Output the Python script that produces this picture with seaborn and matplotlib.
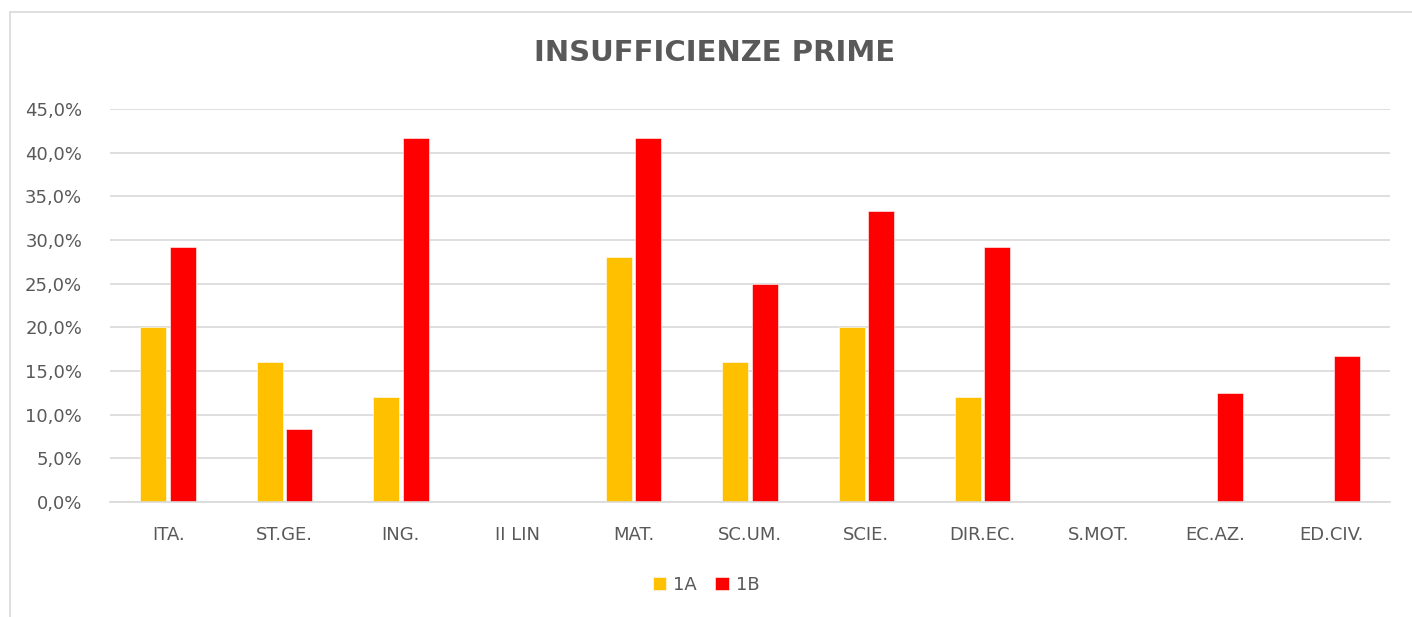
import numpy as np
import pandas as pd
import matplotlib
matplotlib.use('Agg')
import matplotlib.pyplot as plt
from matplotlib.ticker import FuncFormatter
from matplotlib.patches import Rectangle
import seaborn as sns

# ── Data ──────────────────────────────────────────────
subjects = ['ITA.', 'ST.GE.', 'ING.', 'II LIN', 'MAT.', 'SC.UM.',
            'SCIE.', 'DIR.EC.', 'S.MOT.', 'EC.AZ.', 'ED.CIV.']
class_1a = [20.0, 16.0, 12.0, 0.0, 28.0, 16.0, 20.0, 12.0, 0.0, 0.0, 0.0]
class_1b = [29.2, 8.3, 41.7, 0.0, 41.7, 25.0, 33.3, 29.2, 0.0, 12.5, 16.7]
classes  = ['1A', '1B']
colors   = ['#FFC000', '#FF0000']

df = pd.DataFrame({
    'Materia': subjects * 2,
    'Classe':  ['1A'] * len(subjects) + ['1B'] * len(subjects),
    'Valore':  class_1a + class_1b,
})

# ── Style ─────────────────────────────────────────────
sns.set_theme(style='white')
plt.rcParams['font.family'] = ['DejaVu Sans']
TXT = '#595959'

fig = plt.figure(figsize=(14.12, 6.17), dpi=100)
ax = fig.add_axes([0.0779, 0.1864, 0.9065, 0.637])

# outer chart border (right and bottom edges fall outside the image)
fig.patches.append(Rectangle((10 / 1412, -0.01), 1.0, 1 - 12 / 617 + 0.01,
                             transform=fig.transFigure, fill=False,
                             edgecolor='#D9D9D9', lw=1.2))

sns.barplot(data=df, x='Materia', y='Valore', hue='Classe', hue_order=classes,
            palette=colors, saturation=1, width=0.507, gap=0.12, ax=ax,
            legend=True, edgecolor='white', linewidth=0.4)

ax.set_ylim(0, 45)
ax.set_xlim(-0.5, len(subjects) - 0.5)
ax.set_yticks(np.arange(0, 46, 5))
ax.yaxis.set_major_formatter(FuncFormatter(lambda v, p: f'{v:.1f}%'.replace('.', ',')))
ax.grid(axis='y', color='#D9D9D9', lw=1.2)
ax.set_axisbelow(True)
for s in ['top', 'right', 'left']:
    ax.spines[s].set_visible(False)
ax.spines['bottom'].set_color('#D9D9D9')
ax.spines['bottom'].set_linewidth(1.2)
ax.tick_params(axis='both', length=0, labelsize=13, colors=TXT)
ax.tick_params(axis='x', pad=17)
ax.tick_params(axis='y', pad=20)
ax.set_xlabel('')
ax.set_ylabel('')

fig.text(0.506, 0.914, 'INSUFFICIENZE PRIME', ha='center', va='center',
         fontsize=21, fontweight='bold', color=TXT)

handles, labels = ax.get_legend_handles_labels()
ax.legend(handles, labels, loc='center', bbox_to_anchor=(0.5, 0.052),
          bbox_transform=fig.transFigure, ncol=2, frameon=False,
          fontsize=13, labelcolor=TXT, handlelength=0.75, handleheight=0.75,
          handletextpad=0.4, columnspacing=1.0)

fig.savefig('out.png', dpi=100)
